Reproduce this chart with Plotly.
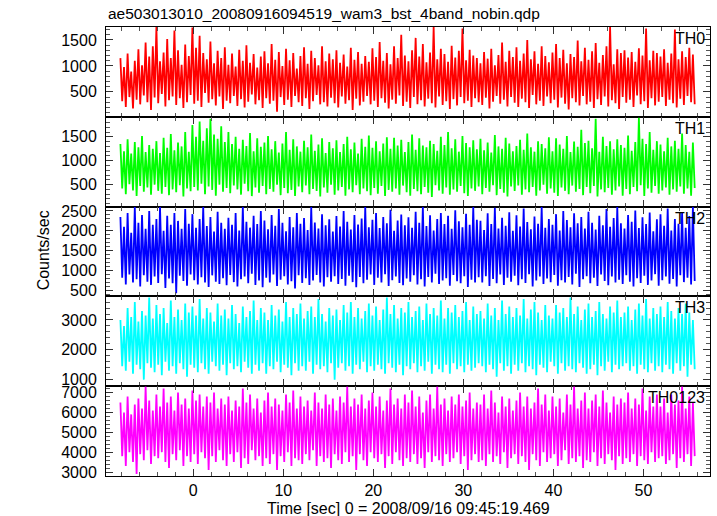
import numpy as np
import plotly.graph_objects as go
from plotly.subplots import make_subplots

title_text = "ae503013010_20080916094519_wam3_bst_4band_nobin.qdp"
x_title = "Time [sec] 0 = 2008/09/16 09:45:19.469"
y_title = "Counts/sec"

t_start = -8.1
bin_width = 0.2

band_names = ["TH0", "TH1", "TH2", "TH3", "TH0123"]
band_colors = ["#ff0000", "#00ff00", "#0000ff", "#00ffff", "#ff00ff"]

th0 = [
    1150,320,980,210,1240,400,890,180,1100,350,1320,260,1010,430,1450,300,1180,150,1380,390,
    1750,280,1090,460,1260,220,1520,340,1150,410,1680,250,1300,380,1020,190,1410,300,1190,440,
    1740,270,1350,330,1580,210,1250,480,1130,290,1470,360,1050,240,1290,410,1150,170,1360,330,
    1020,280,1240,420,990,230,1310,360,1100,200,1400,310,1060,450,1230,260,970,340,1180,190,
    1280,380,1050,270,1420,330,1120,120,1270,400,1000,250,1330,350,1110,210,1250,420,950,300,
    1190,230,1360,380,1040,170,1290,320,1150,440,1010,260,1380,300,1090,220,1240,390,1130,280,
    1300,200,1060,410,1220,270,990,340,1350,150,1120,370,1270,240,1040,310,1190,420,1080,260,
    1340,330,1170,210,1460,380,1100,290,1250,180,1030,350,1380,270,1150,430,1600,230,1200,310,
    1090,190,1300,400,1540,260,1180,340,1420,220,1070,370,1260,280,1750,200,1130,410,1330,250,
    1230,320,1080,170,1390,360,1160,240,1290,400,1720,280,1110,330,1310,210,1200,380,1150,300,
    1050,250,1270,390,1140,180,1330,310,1010,420,1210,270,1450,350,1080,220,1290,400,1170,290,
    1360,210,1100,370,1240,300,1500,190,1130,440,1280,260,1040,330,1380,230,1190,410,1070,280,
    1260,350,1420,200,1150,390,1310,270,1050,160,1230,380,1170,300,1490,240,1090,420,1350,260,
    1120,310,1280,190,1440,360,1060,250,1210,410,1380,220,1750,340,1030,280,1320,170,1250,400,
    1300,290,1160,350,1270,210,1080,430,1340,260,1200,320,1720,190,1110,380,1290,240,1250,310,
    1180,400,1320,230,1060,350,1240,280,1700,200,1130,370,1280,250,1170,420,1350,300,1220,260,
]

th1 = [
    1350,420,1200,300,1450,510,1150,380,1390,260,1280,470,1520,350,1180,440,1330,290,1250,500,
    1410,370,1160,310,1480,450,1270,280,1560,400,1220,340,1380,490,1300,250,1600,420,1190,360,
    1750,450,1500,380,1820,520,1420,300,1680,460,1880,390,1550,270,1460,500,1720,350,1390,430,
    1600,320,1350,480,1500,400,1250,290,1440,520,1310,360,1580,260,1200,440,1470,330,1290,470,
    1380,300,1520,410,1240,350,1410,500,1170,280,1360,430,1600,320,1230,390,1450,260,1300,460,
    1190,340,1420,480,1280,300,1550,410,1210,370,1340,250,1470,440,1160,330,1390,500,1260,290,
    1430,380,1180,450,1350,270,1500,400,1240,340,1380,490,1150,300,1460,420,1290,360,1530,280,
    1270,430,1410,310,1200,470,1360,260,1490,390,1250,350,1480,420,1320,290,1440,480,1180,340,
    1390,270,1550,410,1230,360,1470,300,1320,450,1280,330,1420,240,1350,490,1210,380,1500,310,
    1330,440,1600,290,1260,400,1450,350,1190,470,1520,320,1370,260,1280,420,1430,370,1240,460,
    1460,300,1220,430,1380,350,1170,490,1540,280,1300,410,1250,330,1480,250,1360,460,1200,370,
    1310,480,1440,290,1230,400,1570,340,1280,450,1190,270,1410,380,1350,500,1260,310,1490,420,
    1200,330,1470,260,1340,440,1250,370,1520,300,1180,480,1400,350,1290,410,1650,280,1370,450,
    1420,320,1260,470,1880,250,1190,400,1500,340,1310,430,1410,290,1240,380,1450,460,1330,270,
    1270,410,1530,300,1210,450,1390,360,1900,490,1460,260,1350,420,1600,330,1230,470,1410,310,
    1340,380,1200,440,1480,290,1300,400,1420,350,1250,460,1570,310,1330,420,1190,270,1380,430,
]

th2 = [
    2350,820,2100,650,2450,900,1950,700,2600,780,2200,600,2400,880,2050,720,2500,640,2150,850,
    2300,690,2600,910,2000,560,2380,800,2150,680,2450,430,2250,870,2050,740,2550,620,2180,900,
    2420,760,2080,650,2300,830,2600,700,2120,590,2350,880,1980,720,2480,660,2200,810,2050,630,
    2330,890,2150,710,2450,600,2010,780,2600,850,2230,680,2080,920,2380,640,2170,750,2500,580,
    2260,820,2040,700,2400,900,2130,610,2550,770,2200,860,1990,650,2350,730,2090,550,2450,880,
    2180,690,2320,810,2020,640,2600,750,2210,890,2060,700,2420,600,2140,830,2290,720,1980,860,
    2370,660,2110,790,2500,620,2230,870,2030,710,2400,580,2160,840,2310,680,2600,770,2090,900,
    2280,640,2450,820,2070,700,2350,910,2190,610,2530,760,2000,850,2260,690,2410,630,2140,800,
    2340,720,2080,880,2480,650,2200,780,2600,600,2120,840,2390,700,2010,920,2300,660,2450,750,
    2170,810,2380,620,2050,890,2520,730,2240,680,2090,860,2430,590,2150,770,2600,700,2280,830,
    2250,700,2020,860,2440,610,2170,790,2580,680,2060,900,2330,640,2130,820,2470,720,2000,870,
    2390,630,2110,780,2560,690,2220,910,2040,600,2360,750,2180,850,2600,660,2080,800,2300,710,
    2150,890,2420,620,2010,760,2500,700,2270,840,2090,650,2440,920,2190,590,2350,780,2060,860,
    2480,680,2200,820,2030,610,2380,900,2140,740,2550,630,2100,850,2320,700,2600,770,2190,660,
    2060,880,2400,720,2230,600,2510,810,2070,690,2340,870,2170,640,2460,750,1990,910,2290,620,
    2420,760,2130,850,2560,670,2010,790,2300,600,2180,880,2450,710,2080,820,2370,650,2600,740,
]

th3 = [
    3000,1450,2800,1300,3400,1600,3100,1200,3600,1500,2950,1350,3300,1000,3150,1550,3750,1400,3050,1250,
    3500,1500,3200,1150,3400,1600,2900,1300,3650,1450,3100,1200,3350,1550,3000,1350,3550,1100,3250,1500,
    3450,1400,3150,1250,3700,1550,3050,1350,3400,1200,3250,1600,2950,1450,3550,1300,3150,1500,3350,1150,
    3050,1550,3500,1350,3200,1450,2900,1250,3450,1600,3100,1400,3300,1200,3650,1500,3000,1300,3400,1550,
    3250,1200,3000,1450,3500,1350,3150,1600,3350,1250,2950,1500,3600,1400,3100,1150,3400,1550,3200,1300,
    3550,1450,3050,1300,3300,1600,3450,1200,3100,1500,3700,1350,3200,1450,2950,1250,3400,1550,3150,1000,
    3350,1400,3000,1550,3500,1300,3250,1450,3600,1200,3100,1500,3400,1350,3050,1600,3300,1250,3550,1450,
    3150,1300,3450,1500,3000,1350,3350,1200,3750,1550,3200,1400,3500,1250,3050,1500,3400,1150,3250,1450,
    3600,1350,3100,1550,3300,1250,3450,1450,3000,1300,3550,1600,3200,1200,3400,1500,3150,1350,3650,1250,
    3050,1500,3400,1200,3250,1550,3500,1350,3100,1450,3300,1250,3600,1500,3000,1300,3450,1400,3200,1550,
    3300,1450,3050,1250,3550,1500,3150,1350,3400,1100,3000,1550,3650,1300,3200,1450,3450,1200,3100,1500,
    3400,1300,3150,1550,3700,1250,3050,1450,3350,1350,3600,1150,3250,1500,3000,1400,3500,1250,3150,1600,
    3050,1450,3500,1200,3250,1550,3400,1300,3100,1450,3750,1350,3200,1250,3450,1550,3000,1400,3350,1200,
    3550,1350,3100,1500,3300,1150,3600,1450,3200,1300,3050,1600,3450,1250,3250,1500,3650,1350,3100,1450,
    3250,1550,3450,1300,3000,1450,3350,1200,3550,1500,3150,1350,3700,1250,3050,1550,3400,1300,3200,1450,
    3450,1250,3100,1500,3600,1350,3300,1200,3050,1550,3400,1300,3200,1450,3550,1100,3250,1500,3000,1350,
]

th0123 = [
    6500,3800,6000,3300,6800,4000,5900,3500,6400,2900,6700,3900,6200,3600,7300,4100,6600,3400,6100,3800,
    6900,3700,6300,4000,7200,3500,6500,3200,6800,3900,6100,3600,7000,4100,6400,3300,6700,3800,6200,3500,
    7100,3900,6600,3400,6900,4000,6300,3700,6800,3100,6500,3800,7000,3500,6200,4100,6700,3600,6400,3300,
    6800,3900,6100,3500,6600,4000,6300,3200,7200,3700,6500,3400,6900,4100,6200,3600,6700,3800,6000,3300,
    6600,3700,7000,3400,6300,3900,6700,3100,6400,3800,6100,3500,6900,4000,6500,3300,7100,3700,6200,3600,
    6800,3400,6300,3900,6600,3600,6100,4100,7000,3300,6500,3800,6200,3500,6900,3700,6400,3200,6700,3900,
    6100,3600,6800,3400,6500,4000,7300,3500,6300,3800,6700,3100,6400,3900,6900,3600,6200,3300,6600,4000,
    7000,3700,6300,3500,6800,3900,6100,3200,6600,3800,7200,3400,6400,4000,6700,3600,6200,3300,6900,3700,
    6500,3500,7100,3900,6300,3400,6800,3700,6000,3200,6600,4000,6900,3500,6200,3800,7300,3600,6400,3300,
    6700,3900,6100,3500,6800,3700,6400,4000,6900,3400,6300,3800,6600,3100,7000,3600,6200,3900,6500,3500,
    6400,3600,6900,3300,6200,3900,7100,3500,6500,3800,6000,3400,6800,4000,6300,3200,6700,3700,6100,3900,
    6600,3400,7000,3800,6300,3500,6800,3100,6200,3900,6500,3600,7200,3300,6400,4000,6900,3500,6100,3700,
    6800,3900,6300,3300,6700,3600,6000,4100,6900,3400,6400,3700,7300,3500,6200,3800,6600,3200,7000,3600,
    6200,3500,6600,4000,6900,3300,6300,3700,7100,3400,6500,3900,6000,3600,6800,3100,6400,3800,6700,3400,
    6500,3700,7000,3500,6200,3900,6700,3300,6400,3800,7200,3600,6100,3400,6800,4000,6300,3500,6900,3700,
    6300,3800,6700,3400,6000,3600,6900,3900,6400,3200,6600,3700,7300,3500,6200,3900,6800,3300,6500,3800,
]

series = [th0, th1, th2, th3, th0123]
y_ranges = [[20, 1750], [40, 1920], [350, 2610], [780, 3790], [2800, 7320]]
y_dticks = [500, 500, 500, 1000, 1000]
y_minor = [100, 100, 100, 200, 200]
x_range = [-9.7, 57.4]

FONT = "Liberation Sans, Arial, Helvetica, sans-serif"

fig = make_subplots(rows=5, cols=1, shared_xaxes=True, vertical_spacing=0)

for i, (name, vals, col) in enumerate(zip(band_names, series, band_colors)):
    t = t_start + bin_width * np.arange(len(vals))
    fig.add_trace(
        go.Scatter(x=t, y=vals, mode="lines", line=dict(color=col, width=1.8),
                   name=name, hoverinfo="skip", showlegend=False),
        row=i + 1, col=1,
    )
    fig.update_yaxes(
        range=y_ranges[i], dtick=y_dticks[i], tick0=0,
        ticks="inside", ticklen=7, tickwidth=1, tickcolor="#333",
        minor=dict(dtick=y_minor[i], ticks="inside", ticklen=4, tickcolor="#555", showgrid=False),
        showline=True, linecolor="black", linewidth=1, mirror="allticks",
        showgrid=False, zeroline=False, ticklabelstandoff=5,
        tickfont=dict(family=FONT, size=16, color="black"),
        row=i + 1, col=1,
    )
    fig.update_xaxes(
        range=x_range, dtick=10, tick0=0,
        ticks="inside", ticklen=7, tickwidth=1, tickcolor="#333",
        minor=dict(dtick=2, ticks="inside", ticklen=4, tickcolor="#555", showgrid=False),
        showline=True, linecolor="black", linewidth=1, mirror="allticks",
        showgrid=False, zeroline=False,
        showticklabels=(i == 4),
        tickfont=dict(family=FONT, size=16, color="black"),
        row=i + 1, col=1,
    )
    ax = "" if i == 0 else str(i + 1)
    fig.add_annotation(
        text=name, xref=f"x{ax} domain", yref=f"y{ax} domain", x=1, y=1,
        xanchor="right", yanchor="top", xshift=-3, yshift=-1, showarrow=False,
        font=dict(family=FONT, size=16, color="black"),
    )

fig.add_annotation(
    text=title_text, xref="paper", yref="paper", x=0, y=1, xanchor="left",
    yanchor="bottom", yshift=3, showarrow=False,
    font=dict(family=FONT, size=15.5, color="black"),
)
fig.add_annotation(
    text=x_title, xref="paper", yref="paper", x=0.5, y=0, xanchor="center",
    yanchor="middle", yshift=-32, showarrow=False,
    font=dict(family=FONT, size=16, color="black"),
)
fig.add_annotation(
    text=y_title, xref="paper", yref="paper", x=-0.104, y=0.503, xanchor="center",
    yanchor="middle", textangle=-90, showarrow=False,
    font=dict(family=FONT, size=16, color="black"),
)

fig.update_layout(
    width=717, height=516,
    margin=dict(l=106, r=7, t=27, b=40),
    paper_bgcolor="white", plot_bgcolor="white",
    showlegend=False,
)

fig.write_html("out.html", config={"displayModeBar": False},
               post_script="document.body.style.margin='0';")
